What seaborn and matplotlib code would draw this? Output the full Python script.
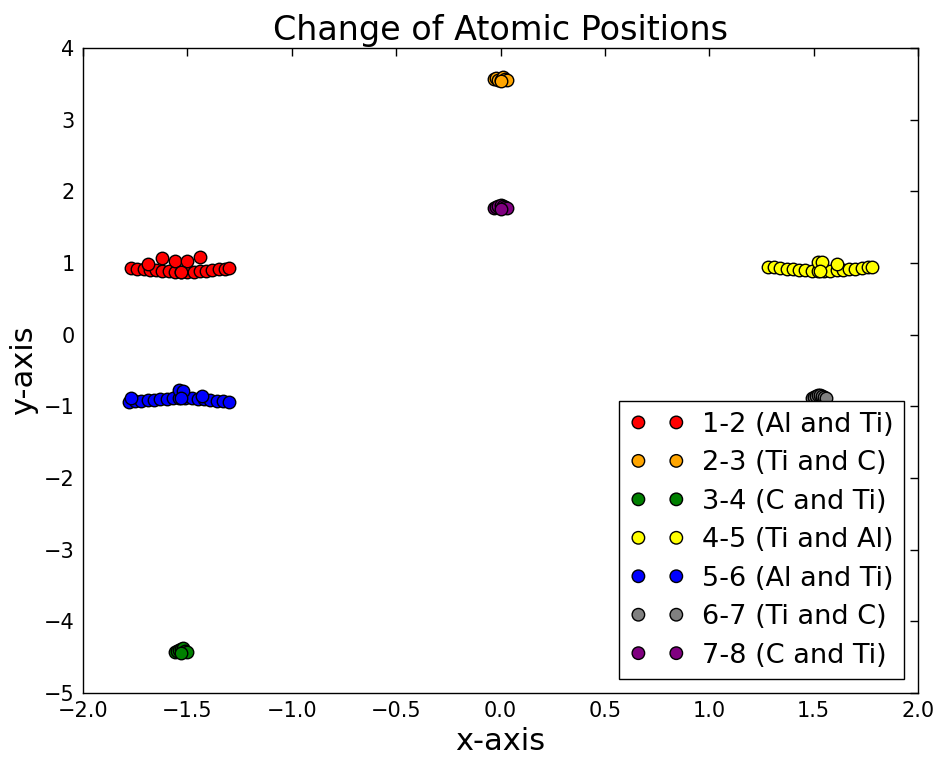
import numpy as np
import pandas as pd
import seaborn as sns
import matplotlib
matplotlib.use("Agg")
import matplotlib.pyplot as plt

# Atomic-pair positions (x, y) collected over the trajectory
pair_labels = ["1-2 (Al and Ti)", "2-3 (Ti and C)", "3-4 (C and Ti)", "4-5 (Ti and Al)",
               "5-6 (Al and Ti)", "6-7 (Ti and C)", "7-8 (C and Ti)"]
pair_colors = ["red", "orange", "green", "yellow", "blue", "gray", "purple"]

x_12 = [-1.77, -1.74, -1.71, -1.68, -1.65, -1.62, -1.59, -1.56, -1.53, -1.50, -1.47,
        -1.44, -1.41, -1.38, -1.35, -1.32, -1.30, -1.69, -1.62, -1.56, -1.50, -1.44, -1.53]
y_12 = [0.93, 0.92, 0.91, 0.90, 0.90, 0.89, 0.89, 0.88, 0.88, 0.88, 0.88,
        0.89, 0.89, 0.90, 0.91, 0.92, 0.93, 0.99, 1.07, 1.03, 1.03, 1.08, 0.88]

x_23 = [-0.03, -0.02, -0.01, 0.00, 0.01, 0.02, 0.03, 0.00]
y_23 = [3.57, 3.58, 3.56, 3.55, 3.59, 3.57, 3.56, 3.54]

x_34 = [-1.56, -1.55, -1.54, -1.53, -1.52, -1.51, -1.50, -1.53]
y_34 = [-4.43, -4.42, -4.40, -4.38, -4.37, -4.41, -4.43, -4.44]

x_45 = [1.28, 1.31, 1.34, 1.37, 1.40, 1.43, 1.46, 1.49, 1.52, 1.55, 1.58,
        1.61, 1.64, 1.67, 1.70, 1.73, 1.76, 1.78, 1.52, 1.54, 1.61, 1.53]
y_45 = [0.95, 0.94, 0.93, 0.92, 0.91, 0.90, 0.90, 0.89, 0.89, 0.89, 0.89,
        0.90, 0.90, 0.91, 0.92, 0.93, 0.94, 0.95, 1.01, 1.01, 0.99, 0.89]

x_56 = [-1.78, -1.75, -1.72, -1.69, -1.66, -1.63, -1.60, -1.57, -1.54, -1.51, -1.48,
        -1.45, -1.42, -1.39, -1.36, -1.33, -1.30, -1.77, -1.54, -1.52, -1.43, -1.53]
y_56 = [-0.94, -0.93, -0.92, -0.91, -0.91, -0.90, -0.90, -0.89, -0.89, -0.89, -0.89,
        -0.90, -0.90, -0.91, -0.92, -0.93, -0.94, -0.89, -0.77, -0.78, -0.85, -0.88]

x_67 = [1.49, 1.50, 1.51, 1.52, 1.53, 1.54, 1.55, 1.56]
y_67 = [-0.89, -0.87, -0.85, -0.84, -0.84, -0.85, -0.87, -0.89]

x_78 = [-0.03, -0.02, -0.01, 0.00, 0.01, 0.02, 0.03, 0.00]
y_78 = [1.77, 1.78, 1.80, 1.81, 1.80, 1.78, 1.77, 1.76]

series_x = [x_12, x_23, x_34, x_45, x_56, x_67, x_78]
series_y = [y_12, y_23, y_34, y_45, y_56, y_67, y_78]

sns.set_theme(style="white")
plt.rcParams["font.family"] = ["DejaVu Sans"]
plt.rcParams["axes.unicode_minus"] = True
plt.rcParams["text.color"] = "black"

fig = plt.figure(figsize=(9.41, 7.63), dpi=100)
ax = fig.add_axes([0.0882, 0.0917, 0.8874, 0.8454])

for xs, ys, lab, col in zip(series_x, series_y, pair_labels, pair_colors):
    df = pd.DataFrame({"x": xs, "y": ys})
    sns.scatterplot(data=df, x="x", y="y", ax=ax, color=col, s=81,
                    edgecolor="black", linewidth=1.0, legend=False)
    ax.collections[-1].set_label(lab)

ax.set_xlim(-2.0, 2.0)
ax.set_ylim(-5, 4)
ax.set_xticks(np.arange(-2.0, 2.01, 0.5))
ax.set_yticks(np.arange(-5, 4.1, 1))
ax.xaxis.set_major_formatter(matplotlib.ticker.FuncFormatter(
    lambda v, _: f"{v:.1f}".replace("-", "\u2212")))
ax.tick_params(direction="in", length=6, width=1, top=True, right=True,
               labelsize=15, colors="black", pad=6)
for sp in ax.spines.values():
    sp.set_color("black")
    sp.set_linewidth(1.0)

ax.set_title("Change of Atomic Positions", fontsize=24, color="black", pad=6)
ax.set_xlabel("x-axis", fontsize=22, color="black")
ax.set_ylabel("y-axis", fontsize=22, color="black")

handles = ax.collections[:len(pair_labels)]
leg = ax.legend(handles, pair_labels, loc="lower right", scatterpoints=2,
                scatteryoffsets=[0.5], fontsize=19.5, frameon=True, fancybox=False,
                framealpha=1, edgecolor="black", borderaxespad=0.5,
                handletextpad=0.65, labelspacing=0.46, borderpad=0.4,
                labelcolor="black")
leg.get_frame().set_linewidth(1.0)
leg.set_zorder(5)

fig.savefig("out.png", dpi=100)
